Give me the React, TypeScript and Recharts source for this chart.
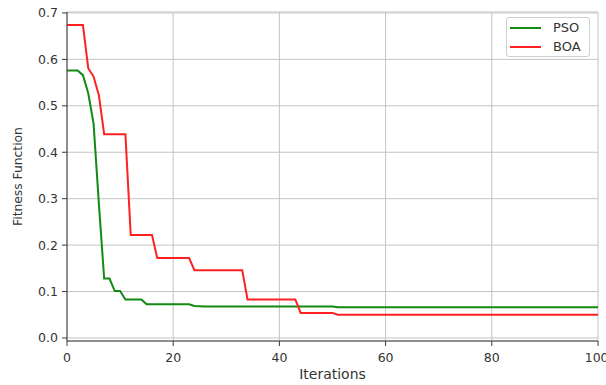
import {
  LineChart,
  Line,
  XAxis,
  YAxis,
  CartesianGrid,
} from "recharts";

// breakpoints (iteration, fitness)
const psoIter = [0, 2, 3, 4, 5, 6, 7, 8, 9, 10, 11, 14, 15, 23, 24, 26, 50, 51, 100];
const psoFit = [0.576, 0.576, 0.566, 0.527, 0.462, 0.29, 0.128, 0.128, 0.101, 0.101, 0.083, 0.083, 0.0725, 0.0725, 0.069, 0.068, 0.068, 0.066, 0.066];

const boaIter = [0, 3, 4, 5, 6, 7, 11, 12, 16, 17, 23, 24, 33, 34, 43, 44, 50, 51, 100];
const boaFit = [0.674, 0.674, 0.581, 0.563, 0.523, 0.439, 0.439, 0.222, 0.222, 0.172, 0.172, 0.146, 0.146, 0.083, 0.083, 0.054, 0.054, 0.05, 0.05];

const xTicks = [0, 20, 40, 60, 80, 100];
const yTicks = [0, 0.1, 0.2, 0.3, 0.4, 0.5, 0.6, 0.7];

const psoData = psoIter.map((x, i) => ({ x, y: psoFit[i] }));
const boaData = boaIter.map((x, i) => ({ x, y: boaFit[i] }));

const FONT = "DejaVu Sans, sans-serif";
const FRAME = "#3a3a3a";
const TEXT = "#333";
const GREEN = "#138a13";
const RED = "#ff2020";

function LegendBox() {
  const items = [
    { name: "PSO", color: GREEN },
    { name: "BOA", color: RED },
  ];
  return (
    <div
      style={{
        position: "absolute",
        left: 506,
        top: 17,
        width: 84,
        boxSizing: "border-box",
        border: "1px solid #d0d0d0",
        borderRadius: 3,
        background: "#fff",
        padding: "0 3px",
        fontFamily: FONT,
        fontSize: 13,
        color: TEXT,
      }}
    >
      {items.map((it) => (
        <div key={it.name} style={{ display: "flex", alignItems: "center", height: 19 }}>
          <div style={{ width: 31, height: 2, background: it.color, marginRight: 12 }} />
          <span>{it.name}</span>
        </div>
      ))}
    </div>
  );
}

export default function App() {
  return (
    <div style={{ position: "absolute", left: 0, top: 0, width: 606, height: 385, background: "#fff" }}>
      <LineChart width={606} height={385} margin={{ top: 12, right: 8, left: 0, bottom: 0 }}>
        <CartesianGrid stroke="#c4c4c4" strokeWidth={1} />
        <XAxis
          dataKey="x"
          type="number"
          domain={[0, 100]}
          ticks={xTicks}
          height={44}
          tickSize={5}
          tickMargin={7}
          stroke={FRAME}
          tick={{ fontSize: 12.5, fill: TEXT, fontFamily: FONT }}
          allowDuplicatedCategory={false}
          label={{
            value: "Iterations",
            position: "insideBottom",
            offset: 6,
            style: { fontSize: 14, fill: TEXT, fontFamily: FONT },
          }}
        />
        <XAxis xAxisId="top" orientation="top" type="number" domain={[0, 100]} height={0} tick={false} tickLine={false} stroke={FRAME} />
        <YAxis
          type="number"
          domain={[-0.0065, 0.702]}
          ticks={yTicks}
          width={67}
          tickSize={5}
          tickMargin={4}
          stroke={FRAME}
          tickFormatter={(v: number) => v.toFixed(1)}
          tick={{ fontSize: 12.5, fill: TEXT, fontFamily: FONT }}
          label={{
            value: "Fitness Function",
            angle: -90,
            position: "insideLeft",
            offset: 18,
            style: { fontSize: 12.3, fill: TEXT, fontFamily: FONT, textAnchor: "middle" },
          }}
        />
        <YAxis yAxisId="right" orientation="right" width={0} tick={false} tickLine={false} stroke={FRAME} />
        <Line
          data={psoData}
          dataKey="y"
          name="PSO"
          type="linear"
          stroke={GREEN}
          strokeWidth={2}
          dot={false}
          isAnimationActive={false}
        />
        <Line
          data={boaData}
          dataKey="y"
          name="BOA"
          type="linear"
          stroke={RED}
          strokeWidth={2}
          dot={false}
          isAnimationActive={false}
        />
      </LineChart>
      <LegendBox />
    </div>
  );
}
